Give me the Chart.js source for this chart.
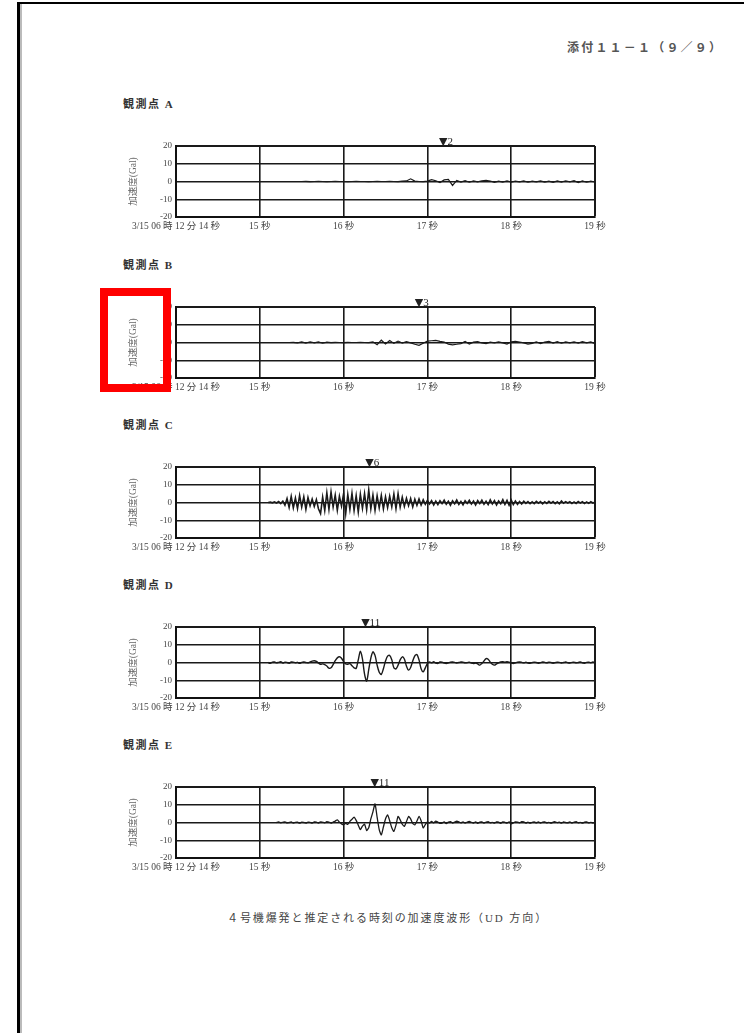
<!DOCTYPE html>
<html lang="ja">
<head>
<meta charset="utf-8">
<script src="https://cdn.jsdelivr.net/npm/chart.js@4.4.1/dist/chart.umd.min.js"></script>
<style>
  body { margin: 0; background: #fff; width: 744px; height: 1033px; overflow: hidden; position: relative;
         font-family: "Liberation Serif", "Noto Sans CJK JP", serif; color: #222; }
  .page { position: absolute; left: 17px; top: 2px; right: -10px; bottom: -10px;
          border-left: 3px solid #000; border-top: 2px solid #000; box-shadow: inset 2px 0 0 #bbb; }
  .hdr { position: absolute; left: 567px; top: 38px; font-size: 12px; font-weight: bold; color: #555; letter-spacing: 2.2px; white-space: nowrap; }
  .ttl { position: absolute; left: 123px; font-size: 11px; font-weight: bold; color: #333; letter-spacing: 1.5px; white-space: nowrap; }
  .cap { position: absolute; left: 227px; top: 909px; font-size: 11px; color: #444; letter-spacing: 1.9px; white-space: nowrap; }
  canvas { position: absolute; left: 120px; }
  .mark { position: absolute; left: 100px; top: 288px; width: 71px; height: 104px; box-sizing: border-box;
          border: 8px solid #ff0000; z-index: 5; }
</style>
</head>
<body>
<div class="page"></div>
<div class="hdr">添付１１－１（９／９）</div>
<div class="cap">４号機爆発と推定される時刻の加速度波形（UD 方向）</div>
<div class="mark"></div>

<script>
"use strict";

// 観測点ごとの表示名
const stations = ["観測点 A", "観測点 B", "観測点 C", "観測点 D", "観測点 E"];

// x 軸の目盛 (秒)
const xTicks = [14, 15, 16, 17, 18, 19];
const xTickLabels = ["3/15 06 時 12 分 14 秒", "15 秒", "16 秒", "17 秒", "18 秒", "19 秒"];
const yTicks = [-20, -10, 0, 10, 20];

// ▼ マーカーの時刻と番号
const markerTimes = [17.19, 16.9, 16.31, 16.26, 16.37];
const markerLabels = ["2", "3", "6", "11", "11"];

// サンプリング開始時刻と刻み (秒)
const startA = 15.5, stepA = 0.05;
const startB = 15.35, stepB = 0.05;
const startC = 15.1, stepC = 0.025;
const startD = 15.1, stepD = 0.025;
const startE = 15.2, stepE = 0.025;

// 加速度 (Gal)
const accA = [
  0, 0.1, -0.1, 0, 0.1, 0, -0.1, 0, 0.1, 0,
  0, -0.1, 0, 0.1, 0, 0, -0.1, 0, 0.1, 0,
  0, 0.1, 0, -0.1, 0.2, 0.3, 1.5, 0.2, 0, -0.1,
  0.2, 1.0, 0.4, -0.6, 0.9, 1.2, -2.2, 0.6, -0.3, 0.5,
  -0.4, 0.3, -0.2, 0.4, 0.7, 0.3, -0.5, 0.2, -0.3, 0.4,
  -0.3, 0.2, -0.2, 0.3, -0.4, 0.2, -0.2, 0.3, -0.3, 0.2,
  -0.5, 0.3, -0.3, 0.4, -0.2, 0.5, -0.6, 0.3, -0.4, 0.2, -0.3,
];

const accB = [
  0, 0.1, -0.2, 0.3, -0.3, 0.4, -0.2, 0.3, -0.4, 0.2,
  -0.1, 0.1, 0, -0.1, 0.1, 0, 0, 0.1, 0, -0.1,
  0.4, -1.2, 1.3, -0.8, 1.1, -0.5, 0.8, -0.3, 0.5, -0.2,
  -1.0, -1.6, -0.4, 0.8, 1.0, 1.2, 0.6, 0.3, -0.9, -1.3,
  -1.0, -0.6, 0.6, -0.9, 0.2, 0.5, -0.3, -0.6, 0.2, -0.2,
  0.3, -0.2, -0.9, 0.4, 0.6, 0.3, -0.2, -0.9, -0.5, 0.4,
  -0.6, 0.3, 0.7, -0.3, 0.5, -0.4, 0.3, -0.2, 0.4, -0.3,
  0.5, -0.2, 0.3, -0.7,
];

const accC = [
  0, 0.2, -0.2, 0.3,
  -0.3, 0.5, -0.6, 0.8,
  -1.5, 2.2, -2.8, 3.5,
  -3.0, 2.5, -3.4, 4.0,
  -2.5, 3.2, -3.8, 2.8,
  -1.8, 2.0, -2.2, 1.6,
  -3.5, -6.2, 3.0, -4.5,
  5.5, -3.8, 6.0, -2.5,
  4.2, -4.3, 3.5, -2.0,
  5.0, -6.2, 4.5, -3.8,
  5.2, -4.5, 3.8, -5.3,
  4.6, -3.2, 5.0, -4.0,
  7.0, -3.5, 4.2, -4.4,
  3.8, -3.0, 4.0, -3.6,
  3.2, -2.8, 3.5, -2.4,
  4.8, -3.4, 5.0, -2.6,
  3.0, -2.2, 2.4, -1.8,
  2.2, -2.5, 1.8, -1.6,
  2.0, -1.4, 1.5, -1.0,
  1.2, -0.8, 1.0, -1.4,
  0.8, -1.2, 1.0, -0.6,
  1.3, -1.0, 0.7, -1.5,
  0.9, -0.7, 1.4, -1.1,
  0.6, -1.3, 1.0, -0.5,
  1.2, -0.9, 0.8, -1.4,
  1.1, -0.6, 1.3, -1.0,
  0.7, -1.2, 1.5, -0.8,
  1.0, -1.4, 0.9, -0.7,
  1.6, -1.1, 1.2, -1.5,
  1.4, -1.2, 0.8, -1.0,
  0.6, -0.8, 0.7, -0.5,
  0.5, -0.7, 0.4, -0.6,
  0.6, -0.4, 0.5, -0.8,
  0.4, -0.5, 0.7, -0.4,
  0.5, -0.6, 0.4, -0.7,
  0.8, -0.4, 0.5, -0.3,
  0.4, -0.6, 0.3, -0.5,
  0.6, -0.3, 0.4, -0.6,
  0.3, -0.5, 0.4, -0.3,
  0.2,
];

const accD = [
  0, -0.5, 0.2, 0.3,
  -0.2, 0.1, 0.4, -0.3,
  0.2, 0, -0.4, 0.3,
  0.2, -0.2, 0.1, -0.5,
  0.1, 0.3, 0, -0.2,
  0.3, 0.8, 1.0, 0.6,
  -0.3, -1.0, -0.8, -1.2,
  -2.0, -3.2, -3.0, -1.2,
  1.0, 2.6, 3.2, 2.4,
  0.5, -0.8, -1.0, -0.6,
  -1.8, -3.0, -3.3, 1.5,
  6.4, 2.0, -6.5, -10.5,
  -4.0, 2.5, 6.0, 4.0,
  -1.5, -5.5, -6.7, -3.5,
  0.8, 3.6, 4.0, 1.5,
  -3.0, -3.6, -1.5, 1.5,
  3.2, 2.0, -2.0, -4.3,
  -2.8, 0.8, 3.8, 4.5,
  1.5, -3.5, -5.2, -3.0,
  -0.5, 0.3, -0.2, 0.4,
  -0.3, -0.5, 0.3, 0.2,
  -0.3, -0.6, -0.2, 0.2,
  0.3, 0.1, -0.3, 0,
  0.3, 0.2, -0.2, -0.1,
  0.2, -0.3, -0.6, -0.3,
  -0.8, -1.5, -0.5, 0.8,
  2.2, 1.8, 0.2, -1.0,
  -1.5, -0.8, -0.2, 0.3,
  0.4, 0.2, 0.5, 0.2,
  -0.3, -0.6, -0.2, 0.2,
  0.3, 0.1, -0.2, 0.1,
  -0.3, -0.5, -0.1, 0.2,
  0, -0.4, -0.1, 0.3,
  0.1, -0.2, 0.2, 0,
  -0.4, -0.1, 0.2, 0.1,
  -0.3, 0, 0.3, -0.1,
  -0.3, 0.1, 0.2, -0.2,
  0, 0.3, -0.2, -0.4,
  0.1, 0.2, -0.1, 0.3,
  0,
];

const accE = [
  0, 0.3, -0.2, 0.1,
  0.4, -0.2, 0, 0.3,
  -0.3, 0.1, 0.2, -0.4,
  0.2, 0, -0.3, 0.2,
  0.1, -0.4, 0.3, 0.2,
  -0.3, 0.4, 0.1, -0.2,
  0.5, 0.2, -0.4, 0.3,
  0.8, 1.5, 0.2, -0.8,
  -1.3, -0.5, -1.0, 0.6,
  1.8, 3.0, 1.2, -1.5,
  -4.0, -2.0, -1.0, -4.5,
  -3.0, 2.0, 6.0, 10.5,
  3.0, -4.0, -7.0, -2.5,
  2.0, 4.3, 1.0, -3.0,
  -5.0, -1.5, 3.4, 1.5,
  -1.0, -2.2, 0.5, 3.4,
  2.0, -0.5, -1.3, 0.8,
  3.4, 1.0, -3.0, -1.2,
  0.3, -0.4, 0.6, -0.2,
  0.8, 0.2, -0.5, -0.3,
  0.4, -0.6, 0.2, 0.5,
  -0.3, 0.2, 0.7, 0.4,
  -0.2, 0.3, -0.4, 0.2,
  0.6, 0.1, -0.3, 0.4,
  -0.5, 0.2, 0.3, -0.4,
  0.2, 0.5, -0.2, 0.1,
  -0.4, 0.3, 0.2, -0.5,
  0.4, 0.1, -0.3, 0.3,
  -0.8, -0.3, 0.4, 0.2,
  -0.2, 0.5, 0.3, -0.3,
  0.2, -0.4, 0.1, 0.3,
  -0.2, 0.4, -0.3, 0.2,
  0.3, -0.2, 0.1, -0.4,
  0.2, 0.4, -0.1, 0.2,
  -0.3, 0.3, 0, -0.2,
  0.4, -0.3, 0.2, 0.5,
  -0.2, 0.1, -0.4, 0.2,
  0.3, -0.2, 0.1, -0.3,
  0,
];

const series = [
  { t0: startA, dt: stepA, values: accA, tension: 0, width: 1.2 },
  { t0: startB, dt: stepB, values: accB, tension: 0, width: 1.2 },
  { t0: startC, dt: stepC, values: accC, tension: 0, width: 1.6 },
  { t0: startD, dt: stepD, values: accD, tension: 0.3, width: 1.4 },
  { t0: startE, dt: stepE, values: accE, tension: 0.2, width: 1.3 },
];

const plotTops = [146, 307, 467, 627, 787];

const FONT = "'Liberation Serif', 'Noto Sans CJK JP', serif";

// ▼ マーカー描画
const markerPlugin = {
  id: "marker",
  afterDraw(chart, args, opts) {
    const { ctx, chartArea } = chart;
    const x = chart.scales.x.getPixelForValue(opts.time);
    ctx.save();
    ctx.fillStyle = "#222";
    ctx.textBaseline = "alphabetic";
    ctx.font = "11px 'DejaVu Sans'";
    const tri = "▼";
    const w = ctx.measureText(tri).width;
    ctx.textAlign = "left";
    ctx.fillText(tri, x - w / 2, chartArea.top - 1);
    ctx.font = "11px " + FONT;
    ctx.fillText(opts.label, x + w / 2, chartArea.top - 1);
    ctx.restore();
  },
};

function makePanel(i) {
  const s = series[i];
  const top = plotTops[i];

  const title = document.createElement("div");
  title.className = "ttl";
  title.style.top = top - 51 + "px";
  title.textContent = stations[i];
  document.body.appendChild(title);

  const canvas = document.createElement("canvas");
  canvas.width = 506;
  canvas.height = 121;
  canvas.style.top = top - 20 + "px";
  document.body.appendChild(canvas);

  const points = s.values.map((v, k) => ({ x: s.t0 + k * s.dt, y: v }));

  new Chart(canvas.getContext("2d"), {
    type: "line",
    data: {
      datasets: [
        {
          data: points,
          borderColor: "#1a1a1a",
          borderWidth: s.width,
          pointRadius: 0,
          tension: s.tension,
          fill: false,
        },
      ],
    },
    options: {
      responsive: false,
      animation: false,
      events: [],
      layout: { padding: { top: 20, right: 31, left: 0, bottom: 0 } },
      plugins: {
        legend: { display: false },
        tooltip: { enabled: false },
        marker: { time: markerTimes[i], label: markerLabels[i] },
      },
      scales: {
        x: {
          type: "linear",
          min: xTicks[0],
          max: xTicks[xTicks.length - 1],
          afterFit(scale) {
            scale.height = 30;
          },
          afterBuildTicks(scale) {
            scale.ticks = xTicks.map((v) => ({ value: v }));
          },
          ticks: {
            padding: 4,
            maxRotation: 0,
            autoSkip: false,
            color: "#444",
            font: { family: FONT, size: 9.5 },
            callback: (v) => xTickLabels[xTicks.indexOf(v)],
          },
          grid: {
            drawTicks: false,
            color: "#1a1a1a",
            lineWidth: (c) => (c.tick && c.tick.value === 19 ? 2 : 1.6),
          },
          border: { display: true, color: "#111", width: 2 },
        },
        y: {
          min: yTicks[0],
          max: yTicks[yTicks.length - 1],
          afterFit(scale) {
            scale.width = 56;
          },
          afterBuildTicks(scale) {
            scale.ticks = yTicks.map((v) => ({ value: v }));
          },
          ticks: {
            padding: 4,
            color: "#444",
            font: { family: FONT, size: 9 },
          },
          grid: {
            drawTicks: false,
            color: "#1a1a1a",
            lineWidth: (c) => (c.tick && c.tick.value === 20 ? 2 : 1.4),
          },
          border: { display: true, color: "#111", width: 2 },
          title: {
            display: true,
            text: "加速度(Gal)",
            color: "#666",
            font: { family: FONT, size: 9.5 },
            padding: { top: 8, bottom: 0 },
          },
        },
      },
    },
    plugins: [markerPlugin],
  });
}

for (let i = 0; i < series.length; i++) makePanel(i);
</script>
</body>
</html>
